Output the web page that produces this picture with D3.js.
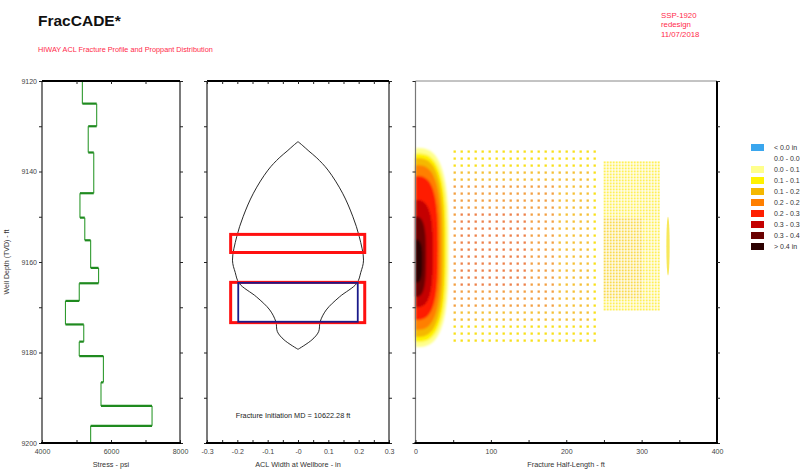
<!DOCTYPE html>
<html><head><meta charset="utf-8">
<script src="https://cdn.jsdelivr.net/npm/d3@7"></script>
<style>body{margin:0;background:#fff}svg{font-family:"Liberation Sans",Arial,sans-serif}</style>
</head><body><svg id="c" width="810" height="475"></svg>
<script>
// ---------- data ----------
const depthTicks=[9120,9140,9160,9180,9200];
const depthMinor=[9120,9130,9140,9150,9160,9170,9180,9190,9200];
const stressTicks=[4000,6000,8000];
const stressMinor=[5000,6000,7000];
const widthTicks=[-0.3,-0.2,-0.1,0,0.1,0.2,0.3];
const widthTickLabels=["-0.3","-0.2","-0.1","-0","0.1","0.2","0.3"];
const lengthTicks=[0,100,200,300,400];
// stress profile (step tops and stress in psi)
const stressTop=[9120,9125,9130,9135.8,9144.8,9150.2,9155.2,9161.3,9164.7,9168.6,9173.8,9177.6,9180.8,9186.6,9191.8,9196.2];
const stressVal=[5170,5585,5340,5500,5100,5240,5410,5640,5080,4680,5210,5080,5780,5710,7190,5410];
// ACL width profile at wellbore (half width, in)
const profDepth=[9133.4,9134.3,9135.5,9137,9139.7,9144.8,9150,9154.4,9159.6,9162.3,9164.7,9167.7,9170.6,9173.2,9175.4,9177.2,9179.3];
const profHalf=[0,0.016,0.036,0.062,0.099,0.147,0.181,0.202,0.216,0.207,0.194,0.137,0.093,0.073,0.068,0.046,0];
// perforated / pay boxes
const redBoxes=[{w0:-0.222,w1:0.220,d0:9153.9,d1:9157.9},{w0:-0.222,w1:0.220,d0:9164.5,d1:9173.4}];
const blueBoxes=[{w0:-0.197,w1:0.197,d0:9164.6,d1:9173.2}];
// legend
const concLabels=["< 0.0 in","0.0 - 0.0","0.0 - 0.1","0.1 - 0.1","0.1 - 0.2","0.2 - 0.2","0.2 - 0.3","0.3 - 0.3","0.3 - 0.4","> 0.4 in"];
const concColors=["#3aa6ee","#ffffff","#ffff8c","#fff200","#f5b800","#ff7f00","#ff1f00","#c40000","#6a0000","#2b0000"];
// near-wellbore proppant concentration bands (legend index 2..9)
const bandLevel=[2,3,4,5,6,7,8,9];
const bandLen=[44,41,37.5,34,30,23,14,9];
const bandTop=[9134.8,9136,9137,9138.6,9141,9146.3,9150,9155];
const bandBot=[9178.8,9177.7,9176.6,9175,9172.8,9170,9167.7,9164.6];
// dispersed proppant zones (coarse & fine), with inner bands
const dotZones=[
 {x0:52,x1:246,d0:9135.6,d1:9177.4,fine:false},
 {x0:247,x1:325,d0:9138,d1:9171,fine:true}];
const dotBands=[
 {x0:52,x1:246,d0:9135.6,d1:9177.4,color:"#f8de10"},
 {x0:52,x1:232,d0:9139.5,d1:9173.5,color:"#f4bd2a"},
 {x0:52,x1:190,d0:9143,d1:9171,color:"#f29a3a"},
 {x0:58,x1:150,d0:9149,d1:9165,color:"#ec7a40"},
 {x0:247,x1:325,d0:9138,d1:9171,color:"#ffee44"},
 {x0:247,x1:300,d0:9150,d1:9168,color:"#f8d63a"}];
const tipEllipse={x:335,d0:9150,d1:9163,w:2.2};

// ---------- setup ----------
const svg=d3.select("#c");
const Y=d3.scaleLinear([9120,9200],[81,443]);
const XS=d3.scaleLinear([4000,8000],[42,180]);
const XW=d3.scaleLinear([-0.3,0.3],[207,389]);
const XL=d3.scaleLinear([0,400],[415.5,717]);
const tickFont=7, tickCol="#444";

// titles
svg.append("text").attr("x",38).attr("y",26).attr("font-size",15.5).attr("font-weight","bold").attr("fill","#111").text("FracCADE*");
svg.append("text").attr("x",38).attr("y",52).attr("font-size",7.3).attr("fill","#ff2a4a").text("HIWAY ACL Fracture Profile and Proppant Distribution");
["SSP-1920","redesign","11/07/2018"].forEach((t,i)=>svg.append("text").attr("x",661).attr("y",18+i*9.3).attr("font-size",7.8).attr("fill","#ff2a4a").text(t));

// ---------- panel 3 : proppant distribution ----------
const defs=svg.append("defs");
defs.append("filter").attr("id","bl").attr("x","-20%").attr("y","-20%").attr("width","140%").attr("height","140%")
 .append("feGaussianBlur").attr("stdDeviation",1.1);
defs.append("filter").attr("id","bl2").append("feGaussianBlur").attr("stdDeviation",0.45);
const p3=svg.append("g");
// dots
const dotG=p3.append("g").attr("filter","url(#bl2)");
dotZones.forEach(z=>{
  const sx=z.fine?3:7, sy=z.fine?3:7, sz=z.fine?2:2.3;
  const px0=XL(z.x0), px1=XL(z.x1), py0=Y(z.d0), py1=Y(z.d1);
  const pts=[];
  for(let px=px0;px<=px1;px+=sx){
    for(let py=py0;py<=py1;py+=sy){
      const f=XL.invert(px), d=Y.invert(py);
      let col=null;
      dotBands.forEach(b=>{ if(f>=b.x0&&f<=b.x1&&d>=b.d0&&d<=b.d1) col=b.color; });
      if(col) pts.push({px,py,col});
    }
  }
  dotG.selectAll(null).data(pts).join("rect")
    .attr("x",p=>p.px-sz/2).attr("y",p=>p.py-sz/2).attr("width",sz).attr("height",sz)
    .attr("fill",p=>p.col).attr("opacity",z.fine?0.9:0.95);
});
p3.append("ellipse").attr("cx",XL(tipEllipse.x)).attr("cy",Y((tipEllipse.d0+tipEllipse.d1)/2))
  .attr("rx",XL(tipEllipse.w)-XL(0)).attr("ry",(Y(tipEllipse.d1)-Y(tipEllipse.d0))/2)
  .attr("fill","#f6e440").attr("opacity",0.85).attr("filter","url(#bl2)");
// contour bands
const bandG=p3.append("g").attr("filter","url(#bl)");
bandLevel.forEach((lv,i)=>{
  const L=bandLen[i], top=bandTop[i], bot=bandBot[i], mid=(top+bot)/2, half=(bot-top)/2, pw=2/3;
  const pts=[];
  for(let k=0;k<=60;k++){
    const t=-Math.PI/2+Math.PI*k/60, c=Math.cos(t), s=Math.sin(t);
    pts.push([XL(L*Math.pow(Math.abs(c),pw)), Y(mid+half*Math.sign(s)*Math.pow(Math.abs(s),pw))]);
  }
  pts.push([XL(0),Y(bot)]); pts.push([XL(0),Y(top)]);
  bandG.append("path").attr("d",d3.line()(pts)+"Z").attr("fill",concColors[lv]);
});
// frame
p3.append("line").attr("x1",XL(0)).attr("x2",XL(400)).attr("y1",Y(9120)).attr("y2",Y(9120)).attr("stroke","#888").attr("stroke-width",1);
p3.append("line").attr("x1",XL(0)).attr("x2",XL(0)).attr("y1",Y(9120)).attr("y2",Y(9200)).attr("stroke","#777").attr("stroke-width",1.2);
p3.append("line").attr("x1",XL(400)).attr("x2",XL(400)).attr("y1",Y(9120)).attr("y2",Y(9200)).attr("stroke","#000").attr("stroke-width",2);
p3.append("g").attr("transform",`translate(0,${Y(9200)})`).call(d3.axisBottom(XL).tickValues(d3.range(0,401,50)).tickSize(-3).tickPadding(6).tickFormat(d=>lengthTicks.includes(d)?d:""));
p3.append("g").attr("transform",`translate(${XL(0)},0)`).call(d3.axisLeft(Y).tickValues(depthMinor).tickSize(3).tickFormat(""));
p3.append("g").attr("transform",`translate(${XL(400)},0)`).call(d3.axisRight(Y).tickValues(depthMinor).tickSize(3).tickFormat(""));
p3.append("text").attr("x",566).attr("y",467).attr("text-anchor","middle").attr("font-size",7.3).attr("fill","#333").text("Fracture Half-Length - ft");

// ---------- panel 1 : stress ----------
const p1=svg.append("g");
const vSeg=[], hSeg=[];
stressTop.forEach((t,i)=>{
  const b=i<stressTop.length-1?stressTop[i+1]:9200;
  vSeg.push([[XS(stressVal[i]),Y(t)],[XS(stressVal[i]),Y(b)]]);
  if(i<stressTop.length-1) hSeg.push([[XS(stressVal[i]),Y(b)],[XS(stressVal[i+1]),Y(b)]]);
});
p1.selectAll(null).data(vSeg).join("path").attr("d",d=>d3.line()(d)).attr("stroke","#2f9a2f").attr("stroke-width",1.1).attr("fill","none");
p1.selectAll(null).data(hSeg).join("path").attr("d",d=>d3.line()(d)).attr("stroke","#1f8a1f").attr("stroke-width",2.2).attr("fill","none");
p1.append("line").attr("x1",XS(4000)).attr("x2",XS(4000)).attr("y1",Y(9120)).attr("y2",Y(9200)).attr("stroke","#333").attr("stroke-width",1.3);
p1.append("line").attr("x1",XS(8000)).attr("x2",XS(8000)).attr("y1",Y(9120)).attr("y2",Y(9200)).attr("stroke","#333").attr("stroke-width",1.3);
p1.append("line").attr("x1",XS(4000)).attr("x2",XS(8000)).attr("y1",Y(9120)).attr("y2",Y(9120)).attr("stroke","#000").attr("stroke-width",2.2);
p1.append("g").attr("transform",`translate(0,${Y(9120)})`).call(d3.axisTop(XS).tickValues(stressMinor).tickSize(-3).tickFormat(""));
p1.append("g").attr("transform",`translate(0,${Y(9200)})`).call(d3.axisBottom(XS).tickValues([4000,5000,6000,7000,8000]).tickSize(-3).tickPadding(6).tickFormat(d=>stressTicks.includes(d)?d:""));
p1.append("g").attr("transform",`translate(${XS(4000)},0)`).call(d3.axisLeft(Y).tickValues(depthMinor).tickSize(3).tickPadding(2).tickFormat(d=>depthTicks.includes(d)?d:""));
p1.append("g").attr("transform",`translate(${XS(8000)},0)`).call(d3.axisRight(Y).tickValues(depthMinor).tickSize(3).tickFormat(""));
p1.append("text").attr("x",111).attr("y",467).attr("text-anchor","middle").attr("font-size",7.3).attr("fill","#333").text("Stress - psi");
svg.append("text").attr("transform","translate(9,262) rotate(-90)").attr("text-anchor","middle").attr("font-size",7).attr("fill","#333").text("Well Depth (TVD) - ft");

// ---------- panel 2 : width profile ----------
const p2=svg.append("g");
const left=profDepth.map((d,i)=>[XW(-profHalf[i]),Y(d)]);
const right=profDepth.map((d,i)=>[XW(profHalf[i]),Y(d)]);
const lg=d3.line().curve(d3.curveCatmullRom.alpha(0.5));
p2.append("path").attr("d",lg(left)).attr("fill","none").attr("stroke","#111").attr("stroke-width",0.9);
p2.append("path").attr("d",lg(right)).attr("fill","none").attr("stroke","#111").attr("stroke-width",0.9);
p2.selectAll(null).data(redBoxes).join("rect")
  .attr("x",b=>XW(b.w0)).attr("y",b=>Y(b.d0)).attr("width",b=>XW(b.w1)-XW(b.w0)).attr("height",b=>Y(b.d1)-Y(b.d0))
  .attr("fill","none").attr("stroke","#ff1010").attr("stroke-width",3);
p2.selectAll(null).data(blueBoxes).join("rect")
  .attr("x",b=>XW(b.w0)).attr("y",b=>Y(b.d0)).attr("width",b=>XW(b.w1)-XW(b.w0)).attr("height",b=>Y(b.d1)-Y(b.d0))
  .attr("fill","none").attr("stroke","#1a1a8a").attr("stroke-width",1.8);
p2.append("line").attr("x1",XW(-0.3)).attr("x2",XW(-0.3)).attr("y1",Y(9120)).attr("y2",Y(9200)).attr("stroke","#333").attr("stroke-width",1.3);
p2.append("line").attr("x1",XW(0.3)).attr("x2",XW(0.3)).attr("y1",Y(9120)).attr("y2",Y(9200)).attr("stroke","#333").attr("stroke-width",1.3);
p2.append("line").attr("x1",XW(-0.3)).attr("x2",XW(0.3)).attr("y1",Y(9120)).attr("y2",Y(9120)).attr("stroke","#000").attr("stroke-width",2.2);
const wMinor=d3.range(-6,7).map(k=>k*0.05);
p2.append("g").attr("transform",`translate(0,${Y(9120)})`).call(d3.axisTop(XW).tickValues(wMinor).tickSize(-3).tickFormat(""));
p2.append("g").attr("transform",`translate(0,${Y(9200)})`).call(d3.axisBottom(XW).tickValues(wMinor).tickSize(-3).tickPadding(6).tickFormat(d=>{const j=widthTicks.findIndex(t=>Math.abs(t-d)<1e-9);return j>=0?widthTickLabels[j]:"";}));
p2.append("g").attr("transform",`translate(${XW(-0.3)},0)`).call(d3.axisLeft(Y).tickValues(depthMinor).tickSize(3).tickFormat(""));
p2.append("g").attr("transform",`translate(${XW(0.3)},0)`).call(d3.axisRight(Y).tickValues(depthMinor).tickSize(3).tickFormat(""));
p2.append("text").attr("x",293).attr("y",418).attr("text-anchor","middle").attr("font-size",7.3).attr("fill","#222").text("Fracture Initiation MD = 10622.28 ft");
p2.append("text").attr("x",298).attr("y",467).attr("text-anchor","middle").attr("font-size",7.3).attr("fill","#333").text("ACL Width at Wellbore - in");

// axis styling
svg.selectAll(".domain").attr("stroke","none");
svg.selectAll(".tick line").attr("stroke","#222");
svg.selectAll(".tick text").attr("font-size",tickFont).attr("fill",tickCol).attr("font-family","Liberation Sans, Arial, sans-serif");
[[XS(4000),XS(8000)],[XW(-0.3),XW(0.3)],[XL(0),XL(400)]].forEach(([a,b])=>
  svg.append("line").attr("x1",a-1).attr("x2",b+1).attr("y1",Y(9200)).attr("y2",Y(9200)).attr("stroke","#000").attr("stroke-width",2.2));

// ---------- legend ----------
const leg=svg.append("g");
concLabels.forEach((t,i)=>{
  const y=147.5+i*11;
  if(concColors[i]!=="#ffffff") leg.append("rect").attr("x",751).attr("y",y-3.5).attr("width",13).attr("height",7).attr("fill",concColors[i]);
  leg.append("text").attr("x",774).attr("y",y+2.5).attr("font-size",7).attr("fill","#333").text(t);
});
</script></body></html>
